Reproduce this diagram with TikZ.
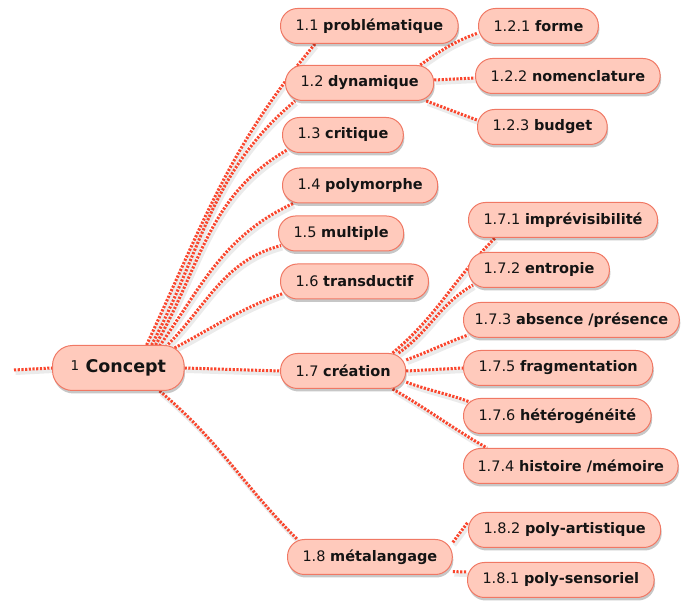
\documentclass[tikz,border=0pt]{standalone}
\usepackage{fontspec}
\setmainfont{DejaVu Sans}
\usetikzlibrary{shadows}
\pgfdeclarelayer{background}
\pgfsetlayers{background,main}
\definecolor{fillc}{RGB}{255,202,188}
\definecolor{bordc}{RGB}{240,120,100}
\definecolor{connc}{RGB}{250,70,45}
\definecolor{txtc}{RGB}{20,20,20}
\newcommand\nlab[2]{#1 {\bfseries #2}}
\tikzset{
  box/.style={draw=bordc, fill=fillc, line width=1pt, rounded corners=17pt,
    minimum height=35pt, inner xsep=15pt, inner ysep=0pt, text=txtc,
    font=\fontsize{14.5}{17}\selectfont, anchor=west,
    drop shadow={shadow xshift=1pt, shadow yshift=-3pt, opacity=0.22, fill=black}},
  rootbox/.style={box, minimum height=45pt, inner xsep=18pt, rounded corners=20pt},
  conn/.style={draw=connc, line width=3pt, dash pattern=on 2.2pt off 1.5pt,
    preaction={draw=black, solid, opacity=0.08, line width=4pt,
      transform canvas={xshift=1.5pt, yshift=-3pt}}},
}
\begin{document}
\begin{tikzpicture}[x=1pt, y=1pt]
\useasboundingbox (0,0) rectangle (681,-601);
% nodes
\node[rootbox] (concept) at (52,-368) {{\fontsize{13.5}{16}\selectfont\raisebox{2pt}{1}}\hspace{0.45em}{\fontsize{17.5}{20}\selectfont\bfseries Concept}};
\node[box] (n11) at (280,-26) {\nlab{1.1}{problématique}};
\node[box] (n12) at (285,-83) {\nlab{1.2}{dynamique}};
\node[box] (n13) at (282,-135) {\nlab{1.3}{critique}};
\node[box] (n14) at (282,-185.5) {\nlab{1.4}{polymorphe}};
\node[box] (n15) at (278,-233.5) {\nlab{1.5}{multiple}};
\node[box] (n16) at (280,-281.5) {\nlab{1.6}{transductif}};
\node[box] (n17) at (280,-371) {\nlab{1.7}{création}};
\node[box] (n18) at (287,-557) {\nlab{1.8}{métalangage}};
\node[box] (n121) at (478,-26) {\nlab{1.2.1}{forme}};
\node[box] (n122) at (475,-76) {\nlab{1.2.2}{nomenclature}};
\node[box] (n123) at (477,-127) {\nlab{1.2.3}{budget}};
\node[box] (n171) at (468,-220) {\nlab{1.7.1}{imprévisibilité}};
\node[box] (n172) at (468,-270) {\nlab{1.7.2}{entropie}};
\node[box, inner xsep=11pt] (n173) at (463,-320) {\nlab{1.7.3}{absence /présence}};
\node[box] (n175) at (463,-368) {\nlab{1.7.5}{fragmentation}};
\node[box] (n176) at (463,-416) {\nlab{1.7.6}{hétérogénéité}};
\node[box, inner xsep=14pt] (n174) at (463,-466) {\nlab{1.7.4}{histoire /mémoire}};
\node[box] (n182) at (468,-530) {\nlab{1.8.2}{poly-artistique}};
\node[box] (n181) at (467,-580) {\nlab{1.8.1}{poly-sensoriel}};
\coordinate (in0) at (14,-370);
% connectors
\begin{pgfonlayer}{background}
\draw[conn] (in0) -- (concept.west);
\draw[conn] ([xshift=-38pt]concept.north east) to[out=65,in=230] ([xshift=35pt]n11.south west);
\draw[conn] ([xshift=-33pt]concept.north east) to[out=62,in=220] ([xshift=10pt]n12.south west);
\draw[conn] ([xshift=-29pt]concept.north east) to[out=60,in=210] ([xshift=5pt,yshift=3pt]n13.south west);
\draw[conn] ([xshift=-25pt,yshift=-1pt]concept.north east) to[out=55,in=205] ([xshift=11pt]n14.south west);
\draw[conn] ([xshift=-19pt,yshift=-2pt]concept.north east) to[out=45,in=195] ([xshift=3pt,yshift=6pt]n15.south west);
\draw[conn] ([xshift=-10pt,yshift=-3pt]concept.north east) to[out=28,in=200] ([xshift=3pt,yshift=6pt]n16.south west);
\draw[conn] (concept.east) -- (n17.west);
\draw[conn] ([xshift=-25pt]concept.south east) to[out=-40,in=135] ([xshift=10pt]n18.north west);
% 1.2 children
\draw[conn] ([xshift=-14pt]n12.north east) to[out=35,in=200] ([yshift=-7pt]n121.west);
\draw[conn] ([yshift=3pt]n12.east) -- ([yshift=-2pt]n122.west);
\draw[conn] ([xshift=-8pt]n12.south east) to[out=-20,in=160] ([yshift=7pt]n123.west);
% 1.7 children
\draw[conn] (n17.20) to[out=40,in=225] ([xshift=27pt]n171.south west);
\draw[conn] (n17.18) to[out=35,in=210] ([xshift=5pt,yshift=3pt]n172.south west);
\draw[conn] (n17.10) to[out=20,in=200] ([xshift=5pt,yshift=3pt]n173.south west);
\draw[conn] (n17.east) -- (n175.west);
\draw[conn] (n17.-10) to[out=-20,in=160] ([xshift=7pt,yshift=-4pt]n176.north west);
\draw[conn] (n17.-20) to[out=-30,in=150] ([xshift=24pt]n174.north west);
% 1.8 children
\draw[conn] (n18.10) -- ([yshift=8pt]n182.west);
\draw[conn] (n18.-10) -- ([yshift=8pt]n181.west);
\end{pgfonlayer}
\end{tikzpicture}
\end{document}
